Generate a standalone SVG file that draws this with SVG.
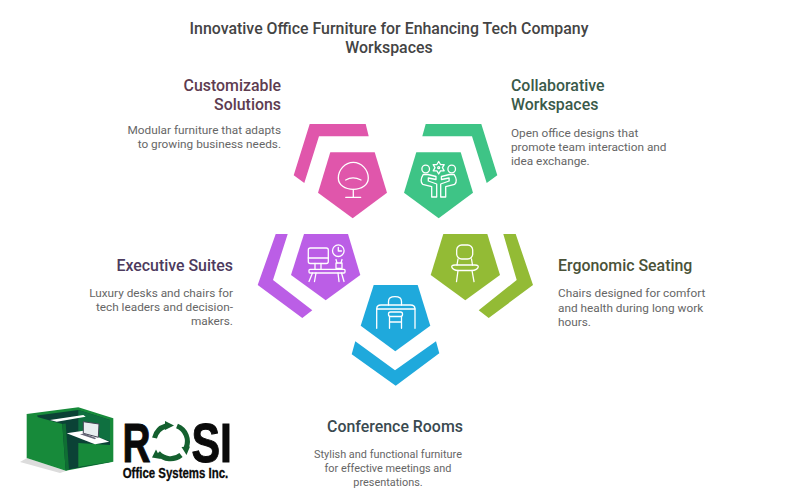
<svg xmlns="http://www.w3.org/2000/svg" width="800" height="500" viewBox="0 0 800 500">
<style>
text{font-family:Roboto,"Liberation Sans",sans-serif}
.t{font-size:15.9px;font-weight:500;fill:#444;text-anchor:middle}
.h{font-size:15.9px;font-weight:500}
.b{font-size:11.8px;fill:#666}
.c{font-size:10.9px}
.e{text-anchor:end}.m{text-anchor:middle}
.i{fill:none;stroke:#fff;stroke-width:1.3;stroke-linecap:round;stroke-linejoin:round}
.l{font-family:"Liberation Sans",sans-serif;font-weight:700;fill:#0a0a0a;stroke:#0a0a0a}
</style>
<rect width="800" height="500" fill="#fff"/>
<g id="title"><text class="t" x="389" y="34">Innovative Office Furniture for Enhancing Tech Company</text><text class="t" x="389" y="53">Workspaces</text></g>
<g id="connectors"/>
<g id="node-customizable">
<path fill="#e056ab" d="M309.700 124H365.700L368.700 136.300H319L304.300 183L293.700 175.300Z"/>
<path fill="#e056ab" d="M330.300 152.300H374.700L387 192.700L352.700 218.300L318 192.700Z"/>
<g class="i"><path d="M353.300 162.300C345 162.300 338.300 170 338.300 178C338.300 185 345 189.300 353.300 189.300C361.500 189.300 368.300 185 368.300 178C368.300 170 361.500 162.300 353.300 162.300Z"/><path d="M345.700 180C350 177.500 356 177.500 361 180"/><path d="M353.300 189.300V197.300M345.700 197.300H360.700"/></g>
<text class="h e" x="281" y="91" fill="#5e3c50">Customizable</text><text class="h e" x="281" y="110" fill="#5e3c50">Solutions</text>
<text class="b e" x="281" y="134">Modular furniture that adapts</text><text class="b e" x="281" y="148">to growing business needs.</text>
</g>
<g id="node-collaborative">
<path fill="#3ec486" d="M425.700 124H481.300L497.300 175.300L486.700 183L472 136.300H422.300Z"/>
<path fill="#3ec486" d="M416.300 152.300H460.700L473 192.700L438.700 218.300L404 192.700Z"/>
<g class="i"><circle cx="425.700" cy="169" r="3.800"/><circle cx="451.700" cy="169" r="3.800"/><path d="M438.700 161.500L440.500 164.500L444.200 164.600L442.400 167.700L444.200 170.800L440.500 170.900L438.700 174L436.900 170.900L433.200 170.800L435 167.700L433.200 164.600L436.900 164.500Z"/><circle cx="438.700" cy="167.700" r="1"/><path d="M423.300 174.300C421 178 420.500 182 422.700 184.300L431.700 186.700V197H436.700V184L428.300 181V178L436 179.500V176.500L428 174.500Z"/><path d="M454.100 174.300C456.400 178 456.900 182 454.700 184.300L445.700 186.700V197H440.700V184L449.100 181V178L441.400 179.500V176.500L449.400 174.500Z"/></g>
<text class="h" x="511" y="91" fill="#3a5a4a">Collaborative</text><text class="h" x="511" y="110" fill="#3a5a4a">Workspaces</text>
<text class="b" x="511" y="137">Open office designs that</text><text class="b" x="511" y="151">promote team interaction and</text><text class="b" x="511" y="165">idea exchange.</text>
</g>
<g id="node-executive">
<path fill="#bb5ee6" d="M275.700 234H287.700L273 280L312.300 310.300L302.300 318L257.700 285Z"/>
<path fill="#bb5ee6" d="M304 234H348L360.300 275L325.700 300.300L291 275Z"/>
<g class="i"><rect x="308.300" y="248" width="20" height="15.500" rx="2"/><path d="M308.300 258H328.300M315 263.500V269M321 263.500V269"/><circle cx="338.300" cy="250.700" r="5.800"/><path d="M338.300 247.500V251H341.500"/><rect x="336" y="263" width="6" height="5.500"/><path d="M337 263L336 259.500M341 263L342 259.500"/><rect x="309" y="269.300" width="36" height="3.700" rx="1"/><path d="M312.500 273L309 281.500M341.500 273L344 281.500M316 273L314.500 281.500M338 273L339 281.500"/></g>
<text class="h e" x="233" y="270.500" fill="#4d3b5e">Executive Suites</text>
<text class="b e" x="233" y="297">Luxury desks and chairs for</text><text class="b e" x="233" y="311">tech leaders and decision-</text><text class="b e" x="233" y="325">makers.</text>
</g>
<g id="node-ergonomic">
<path fill="#93bb35" d="M503.300 234H515.700L533 285L488.700 318L478.700 310.300L516.700 280Z"/>
<path fill="#93bb35" d="M443.300 234H487.300L500 275L465.300 300.300L430.700 275Z"/>
<g class="i"><rect x="456.700" y="245" width="16" height="14" rx="5"/><path d="M458 259L457 265M471.500 259L472.500 265"/><path d="M455 265C449 265 452 270 458 270.500H472C478 270 481 265 475 265Z"/><path d="M458 270.500L456.500 281.700M472 270.500L474 281.700"/></g>
<text class="h" x="558" y="270.500" fill="#4a5238">Ergonomic Seating</text>
<text class="b" x="558" y="297">Chairs designed for comfort</text><text class="b" x="558" y="312">and health during long work</text><text class="b" x="558" y="326">hours.</text>
</g>
<g id="node-conference">
<path fill="#1fa9dc" d="M355.300 341.300L395 370.300L436 341.300L439.300 353.300L395.700 385.700L351.700 354.300Z"/>
<path fill="#1fa9dc" d="M373.700 285H417.700L430.300 325.700L395.300 351.300L360.700 325.700Z"/>
<g class="i"><path d="M376.700 328.300V309C376.700 306.500 378 305 381 305H410.500C413.500 305 415 306.500 415 309V328.300"/><path d="M376.700 309H415"/><path d="M388.500 305V301.500C388.500 298 392 296.700 395 296.700C398 296.700 401.500 298 401.500 301.500V305"/><rect x="388.500" y="312" width="14" height="4.500" rx="2"/><path d="M389.500 316.500V328.300M401.500 316.500V328.300M389.500 322H401.500"/></g>
<text class="h m" x="395" y="431.500" fill="#3a4a50">Conference Rooms</text>
<text class="b c m" x="388" y="458">Stylish and functional furniture</text><text class="b c m" x="388" y="472">for effective meetings and</text><text class="b c m" x="388" y="486">presentations.</text>
</g>
<g id="logo">
<path fill="#dcdcdc" d="M20 462L27 458L66 471L60 473Z"/>
<path fill="#178a3a" d="M26.700 414L78.300 407.300L113.300 418.300V461.700L65.700 470.700Z"/>
<path fill="#0b4236" d="M37 415.500L78.300 410L110 420V462L65.700 470Z"/>
<path fill="#0f7040" d="M78.300 410L110 420V441L78.300 431Z"/>
<path fill="#178a3a" d="M78.300 443L110 445V462L78.300 467Z"/>
<path fill="#178a3a" d="M26.700 414L62.300 424L65.700 470.700L26.700 458Z"/>
<path fill="#0f6e33" d="M62.300 424L65.700 423.500L69 469.500L65.700 470.700Z"/>
<path fill="#fff" d="M50 420L83.300 415L85.700 416.700L56.700 421.700Z"/>
<path fill="#fff" d="M66.700 433.300L83.300 430.700L109.300 441.700L95 444.300Z"/>
<path fill="#e8eef0" stroke="#445" stroke-width="1" d="M83.300 421.700L99 424L98.300 437.300L83.300 433.300Z"/>
<path fill="#667" d="M80 434.300L84 433.500L96 438L95 439.300Z"/>
<text class="l" x="122.500" y="461.700" font-size="55" stroke-width="1" textLength="28" lengthAdjust="spacingAndGlyphs">R</text>
<text class="l" x="191.500" y="461.700" font-size="55" stroke-width="1" textLength="40.500" lengthAdjust="spacingAndGlyphs">SI</text>
<g fill="none" stroke="#14602f" stroke-width="5"><path d="M154.500 438A16.500 16.500 0 0 1 166 426"/><path d="M177 426A16.500 16.500 0 0 1 186 448"/><path d="M181 455A16.500 16.500 0 0 1 158 453"/></g>
<g fill="#14602f"><path d="M165 421L174 425.500L165 430Z"/><path d="M181.500 447L190 446.500L186.500 455Z"/><path d="M161 459L152 457.500L156 449.500Z"/></g>
<text class="l" x="122.700" y="477.700" font-size="15" stroke-width="0.300" textLength="105.600" lengthAdjust="spacingAndGlyphs">Office Systems Inc.</text>
</g>
</svg>
